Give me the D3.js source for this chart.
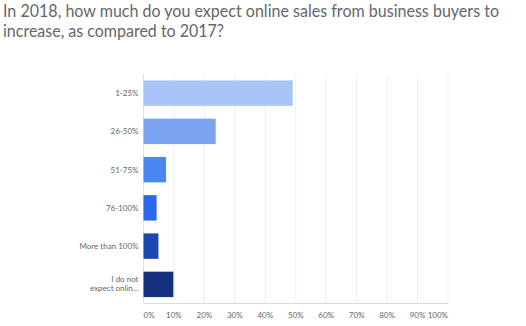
<!DOCTYPE html>
<html><head><meta charset="utf-8">
<script src="https://cdn.jsdelivr.net/npm/d3@7"></script>
<style>body{margin:0;background:#fff;}svg{display:block;}</style>
</head><body>
<script>
const categories = ["1-25%","26-50%","51-75%","76-100%","More than 100%","I do not expect onlin..."];
const values = [49, 23.7, 7.4, 4.3, 4.9, 9.8];
const colors = ["#aac4f7","#7ba3f2","#4a87f0","#2867ee","#1a48b0","#15317e"];
const ticks = [0,10,20,30,40,50,60,70,80,90,100];
const tickLabels = ticks.map(t => t + "%");

const W = 526, H = 326;
const svg = d3.select("body").append("svg").attr("width", W).attr("height", H);
const font = "Lato, sans-serif";

svg.append("text").attr("font-family", font).attr("font-size", 16.5).attr("fill", "#666")
  .attr("x", 3).attr("y", 17).attr("textLength", 496).attr("lengthAdjust", "spacingAndGlyphs")
  .text("In 2018, how much do you expect online sales from business buyers to");
svg.append("text").attr("font-family", font).attr("font-size", 16.5).attr("fill", "#666")
  .attr("x", 3).attr("y", 37).attr("textLength", 221).attr("lengthAdjust", "spacingAndGlyphs")
  .text("increase, as compared to 2017?");

const x = d3.scaleLinear().domain([0, 100]).range([143.5, 448]);
const y = d3.scaleBand().domain(categories).range([74, 303.5]).paddingInner(0.335).paddingOuter(0.1675);

// gridlines
svg.append("g").selectAll("line").data(ticks).join("line")
  .attr("x1", d => x(d)).attr("x2", d => x(d)).attr("y1", 74).attr("y2", 303.5)
  .attr("stroke", "#efefef").attr("stroke-width", 1);
svg.append("line").attr("x1", x(0)).attr("x2", x(100)).attr("y1", 303.5).attr("y2", 303.5)
  .attr("stroke", "#dcdcdc");
svg.append("line").attr("x1", x(0)).attr("x2", x(0)).attr("y1", 74).attr("y2", 303.5)
  .attr("stroke", "#e2e2e2");

// bars
svg.append("g").selectAll("rect").data(categories).join("rect")
  .attr("x", x(0)).attr("y", d => y(d))
  .attr("width", (d, i) => x(values[i]) - x(0))
  .attr("height", y.bandwidth())
  .attr("fill", (d, i) => colors[i]);

// category labels
const lab = svg.append("g").attr("font-family", font).attr("font-size", 8).attr("fill", "#666").attr("text-anchor", "end");
categories.forEach(c => {
  const cy = y(c) + y.bandwidth() / 2;
  if (c.startsWith("I do not")) {
    lab.append("text").attr("x", 138.5).attr("y", cy - 2.5).text("I do not");
    lab.append("text").attr("x", 138.5).attr("y", cy + 6.5).text("expect onlin...");
  } else {
    lab.append("text").attr("x", 138.5).attr("y", cy + 3).text(c);
  }
});

// x tick labels
svg.append("g").attr("font-family", font).attr("font-size", 8).attr("fill", "#666")
  .selectAll("text").data(ticks).join("text")
  .attr("x", d => x(d)).attr("y", 318)
  .attr("text-anchor", (d, i) => i === 0 ? "start" : (i === ticks.length - 1 ? "end" : "middle"))
  .text((d, i) => tickLabels[i]);
</script>
</body></html>
